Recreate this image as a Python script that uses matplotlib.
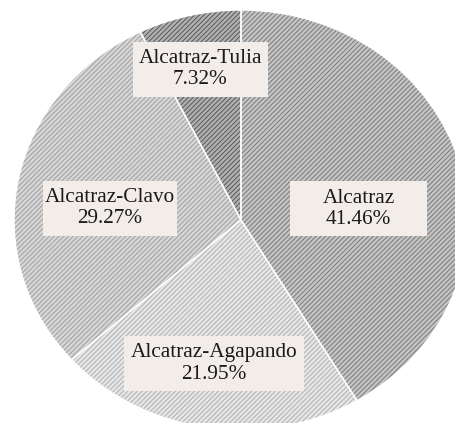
import matplotlib.pyplot as plt
from matplotlib.patches import Rectangle

# data
labels = ["Alcatraz", "Alcatraz-Agapando", "Alcatraz-Clavo", "Alcatraz-Tulia"]
shares = [41.46, 21.95, 29.27, 7.32]

# styling
face_cols = ["#c4c4c4", "#e6e6e6", "#d6d6d6", "#b0b0b0"]
hatch_cols = ["#7a7a7a", "#b0b0b0", "#a0a0a0", "#585858"]
# label box centres / sizes in pixels (figure is 455x423)
box_xy = [(358.5, 209), (214, 363.5), (110, 208), (200.5, 69)]
box_wh = [137, 180, 134, 135]
box_h = 55

plt.rcParams['font.family'] = ['Liberation Serif', 'DejaVu Serif']
plt.rcParams['hatch.linewidth'] = 0.7

W, H = 455, 423
fig = plt.figure(figsize=(W / 100, H / 100), dpi=100)
ax = fig.add_axes([0, 0, 1, 1])

# pie centre at (241, 220) px, radii 227 x 210 px
cx, cy, rx, ry = 241, 220, 227, 210

wedges, _ = ax.pie(shares, startangle=90, counterclock=False, radius=1,
                   colors=face_cols, wedgeprops=dict(linewidth=0))
for w, hc in zip(wedges, hatch_cols):
    w.set_hatch('///////')
    w.set_edgecolor(hc)
    w.set_linewidth(0)

# thin white borders between slices
ax.pie(shares, startangle=90, counterclock=False, radius=1,
       colors=['none'] * len(shares),
       wedgeprops=dict(linewidth=1.0, edgecolor='white', fill=False))
ax.set_xlim(-cx / rx, (W - cx) / rx)
ax.set_ylim(-(H - cy) / ry, cy / ry)
ax.set_aspect('auto')
ax.axis('off')

for lab, val, (bx, by), bw in zip(labels, shares, box_xy, box_wh):
    fx, fy = bx / W, 1 - by / H
    fig.patches.append(Rectangle((fx - bw / 2 / W, fy - box_h / 2 / H),
                                 bw / W, box_h / H, transform=fig.transFigure,
                                 facecolor='#f3ede9', edgecolor='none',
                                 zorder=5))
    fig.text(fx, fy, f"{lab}\n{val:.2f}%", ha='center', va='center',
             fontsize=15.3, color='#1a1a1a', linespacing=1.15, zorder=6)

fig.savefig("out.png", dpi=100)
